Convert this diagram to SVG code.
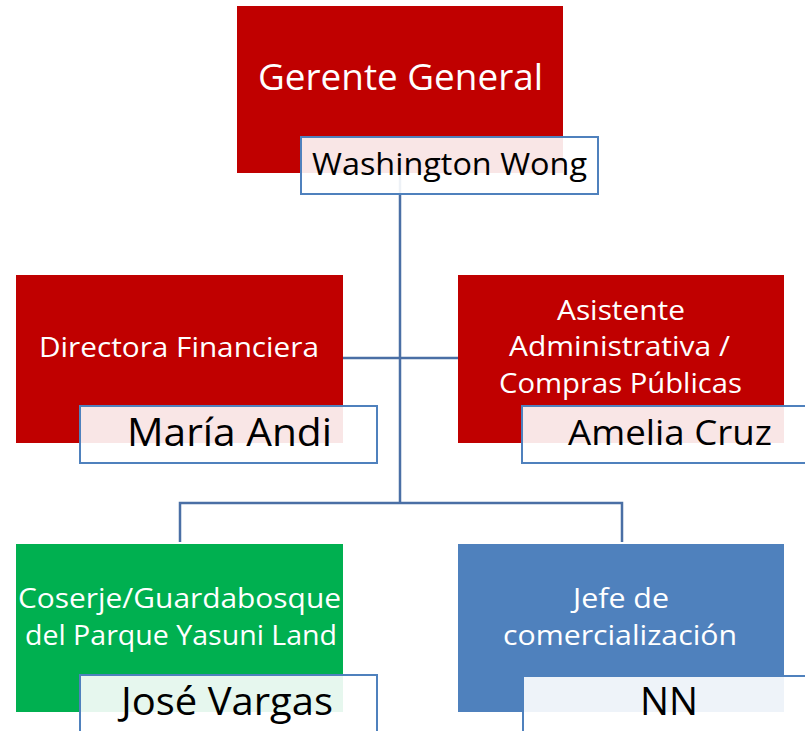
<svg xmlns="http://www.w3.org/2000/svg" width="805" height="731" viewBox="0 0 805 731">
<style>
.t{font-family:"Open Sans","Liberation Sans",sans-serif;fill:#fff}
.n{font-family:"Open Sans","Liberation Sans",sans-serif;fill:#000}
.nb{fill:#fff;fill-opacity:0.9;stroke:#4F81BD;stroke-width:2}
.red{fill:#C00000}
.green{fill:#00B050}
.blue{fill:#4F81BD}
.c{fill:none;stroke:#4A6FA5;stroke-width:2.5}
</style>
<rect width="805" height="731" fill="#fff"/>
<g id="connectors">
<path class="c" d="M400,173 V472 M343,358 H458 M400,472 V503 M180,542 V503 H622 V542"/>
</g>
<g id="gerente">
<rect class="red" x="237" y="6" width="326" height="167"/>
<text class="t" x="258" y="90" font-size="37" textLength="285" lengthAdjust="spacingAndGlyphs">Gerente General</text>
<rect class="nb" x="301" y="137" width="297" height="57"/>
<text class="n" x="312" y="175" font-size="31" textLength="275" lengthAdjust="spacingAndGlyphs">Washington Wong</text>
</g>
<g id="directora">
<rect class="red" x="16" y="275" width="327" height="168"/>
<text class="t" x="39" y="357" font-size="28" textLength="280" lengthAdjust="spacingAndGlyphs">Directora Financiera</text>
<rect class="nb" x="80" y="406" width="297" height="57"/>
<text class="n" x="127" y="446" font-size="39" textLength="205" lengthAdjust="spacingAndGlyphs">María Andi</text>
</g>
<g id="asistente">
<rect class="red" x="458" y="275" width="326" height="168"/>
<text class="t" x="557" y="320" font-size="28" textLength="128" lengthAdjust="spacingAndGlyphs">Asistente</text>
<text class="t" x="509" y="356" font-size="28" textLength="221" lengthAdjust="spacingAndGlyphs">Administrativa /</text>
<text class="t" x="499" y="393" font-size="28" textLength="243" lengthAdjust="spacingAndGlyphs">Compras Públicas</text>
<rect class="nb" x="522" y="406" width="297" height="57"/>
<text class="n" x="568" y="445" font-size="35" textLength="204" lengthAdjust="spacingAndGlyphs">Amelia Cruz</text>
</g>
<g id="coserje">
<rect class="green" x="16" y="544" width="327" height="168"/>
<text class="t" x="18" y="608" font-size="28" textLength="323" lengthAdjust="spacingAndGlyphs">Coserje/Guardabosque</text>
<text class="t" x="25" y="645" font-size="28" textLength="312" lengthAdjust="spacingAndGlyphs">del Parque Yasuni Land</text>
<rect class="nb" x="80" y="675" width="297" height="60"/>
<text class="n" x="121" y="715" font-size="39" textLength="212" lengthAdjust="spacingAndGlyphs">José Vargas</text>
</g>
<g id="jefe">
<rect class="blue" x="458" y="544" width="326" height="168"/>
<text class="t" x="573" y="608" font-size="28" textLength="96" lengthAdjust="spacingAndGlyphs">Jefe de</text>
<text class="t" x="503" y="645" font-size="28" textLength="234" lengthAdjust="spacingAndGlyphs">comercialización</text>
<rect class="nb" x="523" y="676" width="297" height="60"/>
<text class="n" x="640" y="715" font-size="39" textLength="58" lengthAdjust="spacingAndGlyphs">NN</text>
</g>
</svg>
